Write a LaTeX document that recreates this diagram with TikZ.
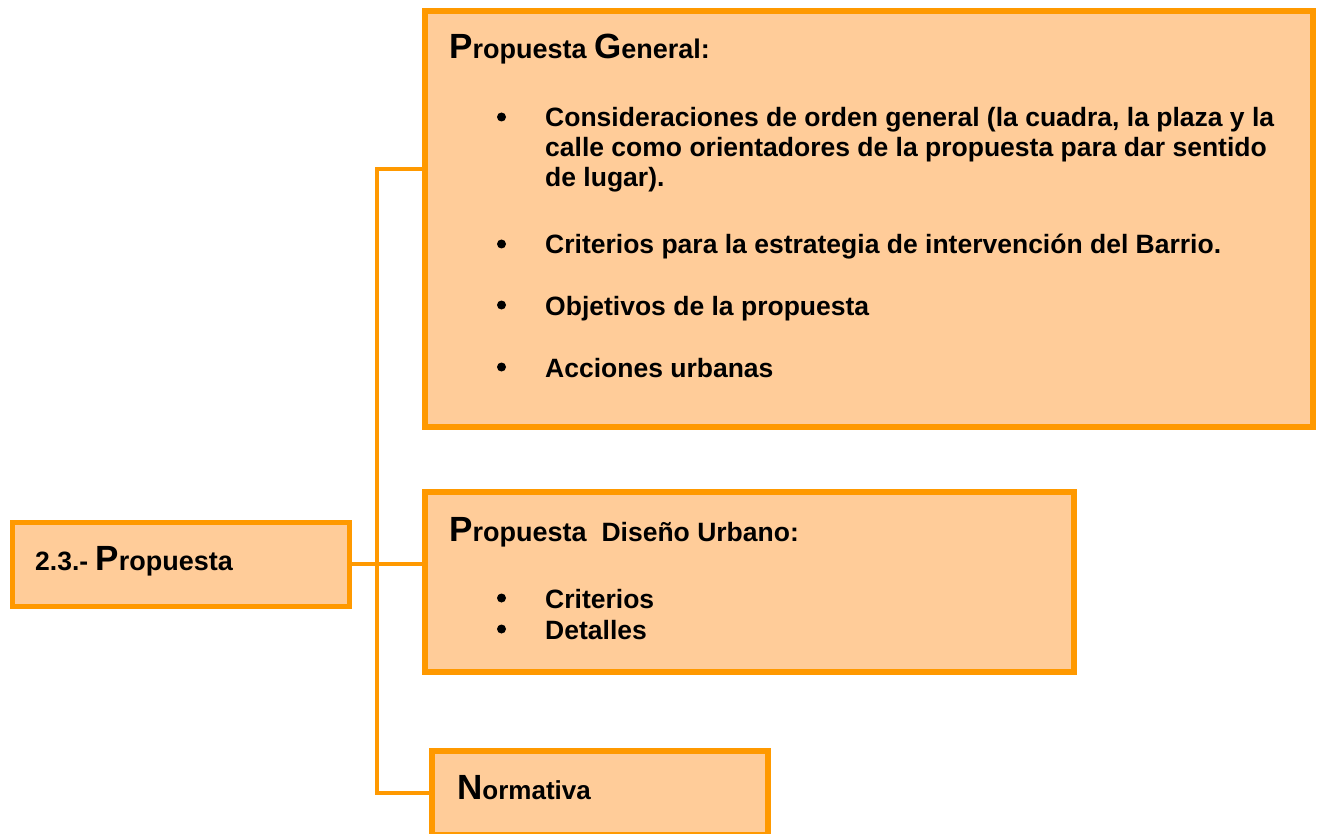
\documentclass[tikz,border=0pt]{standalone}
\usepackage{fontspec}
\setmainfont{Liberation Sans}
\definecolor{boxfill}{HTML}{FFCC99}
\definecolor{boxline}{HTML}{FF9900}
\begin{document}
\begin{tikzpicture}[x=1pt,y=-1pt,
  panel/.style={draw=boxline,fill=boxfill,inner sep=0pt,outer sep=0pt,line width=6pt,rectangle},
  wire/.style={draw=boxline,line width=3.5pt,line join=miter},
  txt/.style={anchor=base west,inner sep=0pt,font=\bfseries\fontsize{26.5}{30}\selectfont},
  head/.style={anchor=base west,inner sep=0pt,font=\bfseries\fontsize{27}{31}\selectfont},
  dot/.style={circle,fill=black,draw=none,inner sep=0pt,outer sep=0pt,minimum size=9pt}]
\useasboundingbox (0,0) rectangle (1319,834);
\fill[white] (0,0) rectangle (1319,834);
\coordinate (t1) at (377,169);
\coordinate (t3) at (377,793);
% boxes
\node[panel,minimum width=888pt,minimum height=416pt] (big) at (869,219) {};
\node[panel,line width=5pt,minimum width=336.5pt,minimum height=84pt] (left) at (180.75,564) {};
\node[panel,minimum width=649pt,minimum height=180pt] (mid) at (749.5,582) {};
\node[panel,minimum width=336pt,minimum height=84pt] (norm) at (600,793) {};
% connectors
\draw[wire] (t1 -| big.west) -- (t1) -- (t3) -- (t3 -| norm.west);
\draw[wire] (left.east) -- (left.east -| mid.west);
% big box text
\node[head] (h1) at (449,59) {{\fontsize{35}{35}\selectfont P}ropuesta {\fontsize{35}{35}\selectfont G}eneral:};
\node[dot] (b1) at (501.5,117) {};
\node[txt] (l1a) at (545,127) {Consideraciones de orden general (la cuadra, la plaza y la};
\node[txt] (l1b) at (545,157) {calle como orientadores de la propuesta para dar sentido};
\node[txt] (l1c) at (545,187) {de lugar).};
\node[dot] (b2) at (501.5,244) {};
\node[txt] (l2) at (545,254) {Criterios para la estrategia de intervención del Barrio.};
\node[dot] (b3) at (501.5,305) {};
\node[txt] (l3) at (545,315) {Objetivos de la propuesta};
\node[dot] (b4) at (501.5,367) {};
\node[txt] (l4) at (545,377) {Acciones urbanas};
% left box text
\node[anchor=base west,inner sep=0pt,font=\bfseries\fontsize{26.5}{30}\selectfont] (lt) at (35,570) {2.3.-\ {\fontsize{35}{35}\selectfont P}{\fontsize{27}{30}\selectfont ropuesta}};
% mid box text
\node[head] (h2) at (449,541) {{\fontsize{35}{35}\selectfont P}ropuesta\ \ {\fontsize{26.5}{30}\selectfont Diseño Urbano:}};
\node[dot] (b5) at (501.5,598) {};
\node[txt] (m1) at (545,608) {Criterios};
\node[dot] (b6) at (501.5,629) {};
\node[txt] (m2) at (545,639) {Detalles};
% bottom box text
\node[anchor=base west,inner sep=0pt,font=\bfseries\fontsize{26}{31}\selectfont] (h3) at (457,799) {{\fontsize{35}{35}\selectfont N}ormativa};
\end{tikzpicture}
\end{document}
